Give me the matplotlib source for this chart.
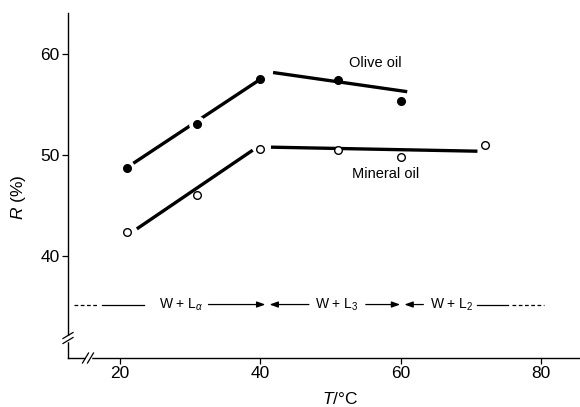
import matplotlib
matplotlib.use("Agg")
import matplotlib.pyplot as plt

plt.rcParams['font.family'] = ['Liberation Sans', 'DejaVu Sans']
plt.rcParams['mathtext.fontset'] = 'custom'
plt.rcParams['mathtext.rm'] = 'Liberation Sans'
plt.rcParams['mathtext.it'] = 'Liberation Sans:italic'

# Data
T_olive = [21, 31, 40, 51, 60]
R_olive = [48.7, 53.1, 57.6, 57.5, 55.4]
T_mineral = [21, 31, 40, 51, 60, 72]
R_mineral = [42.4, 46.1, 50.6, 50.5, 49.8, 51.0]

olive_fit1_T = [21.9, 39.7]
olive_fit1_R = [49.2, 57.4]
olive_fit2_T = [41.8, 60.9]
olive_fit2_R = [58.2, 56.3]
mineral_fit1_T = [22.4, 38.9]
mineral_fit1_R = [42.7, 50.5]
mineral_fit2_T = [41.5, 70.9]
mineral_fit2_R = [50.8, 50.4]

phase_labels = ['W + L$_{\\alpha}$', 'W + L$_3$', 'W + L$_2$']
phase_label_T = [28.7, 50.9, 67.2]
phase_R = 35.2
phase_bounds = [41.0, 60.2]

xticks = [20, 40, 60, 80]
yticks = [40, 50, 60]

fig = plt.figure(figsize=(5.8, 4.07), dpi=100)
ax = fig.add_axes([68/580, 49/407, 512/580, 345/407])
ax.set_xlim(12.6, 85.5)
ax.set_ylim(29.9, 64.1)
for s in ['top', 'right']:
    ax.spines[s].set_visible(False)
for s in ['left', 'bottom']:
    ax.spines[s].set_linewidth(1.0)

ax.set_xticks(xticks)
ax.set_yticks(yticks)
ax.tick_params(direction='out', length=4, width=0.9, labelsize=12.5, pad=2)

lw = 2.4
# fit lines
ax.plot(olive_fit1_T, olive_fit1_R, color='black', lw=lw, solid_capstyle='butt', zorder=2)
ax.plot(olive_fit2_T, olive_fit2_R, color='black', lw=lw, solid_capstyle='butt', zorder=2)
ax.plot(mineral_fit1_T, mineral_fit1_R, color='black', lw=lw, solid_capstyle='butt', zorder=2)
ax.plot(mineral_fit2_T, mineral_fit2_R, color='black', lw=lw, solid_capstyle='butt', zorder=2)

# white halo around the olive point on the rising line
ax.plot(T_olive[1:2], R_olive[1:2], 'o', ms=11, color='white', mec='white', zorder=3)
ax.plot(T_olive, R_olive, 'o', ms=5.5, color='black', mec='black', zorder=4)
ax.plot(T_mineral, R_mineral, 'o', ms=5.5, mfc='white', mec='black', mew=1.0, zorder=4)

ax.text(56.4, 59.1, 'Olive oil', fontsize=10.5, ha='center', va='center')
ax.text(57.8, 48.1, 'Mineral oil', fontsize=10.5, ha='center', va='center')

# phase line
pl = dict(color='black', lw=0.9)
ax.plot([13.4, 17.0], [phase_R, phase_R], ls=(0, (3, 2)), **pl)
ax.plot([17.4, 23.4], [phase_R, phase_R], **pl)
ax.plot([75.8, 80.4], [phase_R, phase_R], ls=(0, (3, 2)), **pl)
ax.plot([70.9, 75.3], [phase_R, phase_R], **pl)
arrow = dict(arrowstyle='-|>,head_length=0.5,head_width=0.18', color='black', lw=0.9, shrinkA=0, shrinkB=0)
ax.annotate('', xy=(phase_bounds[0] - 0.3, phase_R), xytext=(32.6, phase_R), arrowprops=arrow)
ax.annotate('', xy=(phase_bounds[0] + 0.3, phase_R), xytext=(46.9, phase_R), arrowprops=arrow)
ax.annotate('', xy=(phase_bounds[1] - 0.3, phase_R), xytext=(55.0, phase_R), arrowprops=arrow)
ax.annotate('', xy=(phase_bounds[1] + 0.3, phase_R), xytext=(63.2, phase_R), arrowprops=arrow)
for lab, t in zip(phase_labels, phase_label_T):
    ax.text(t, phase_R, lab, fontsize=10, ha='center', va='center')

# axis break marks
def brk(xc, yc):
    dx, dy = 5/512, 4/345
    sep_x, sep_y = 0, 5/345
    for k in (-0.5, 0.5):
        ax.plot([xc - dx + k*sep_x, xc + dx + k*sep_x], [yc - dy + k*sep_y, yc + dy + k*sep_y],
                transform=ax.transAxes, color='black', lw=0.9, clip_on=False, zorder=6)

def brk_x(xc, yc):
    dx, dy = 3/512, 5/345
    sep_x = 5/512
    ax.plot([xc - sep_x/2 + 1/512, xc + sep_x/2 - 1/512], [yc, yc], transform=ax.transAxes,
            color='white', lw=2.5, clip_on=False, zorder=5)
    for k in (-0.5, 0.5):
        ax.plot([xc - dx + k*sep_x, xc + dx + k*sep_x], [yc - dy, yc + dy],
                transform=ax.transAxes, color='black', lw=0.9, clip_on=False, zorder=6)

def brk_y(xc, yc):
    dx, dy = 5/512, 3/345
    sep_y = 5/345
    ax.plot([xc, xc], [yc - sep_y/2 + 1/345, yc + sep_y/2 - 1/345], transform=ax.transAxes,
            color='white', lw=2.5, clip_on=False, zorder=5)
    for k in (-0.5, 0.5):
        ax.plot([xc - dx, xc + dx], [yc - dy + k*sep_y, yc + dy + k*sep_y],
                transform=ax.transAxes, color='black', lw=0.9, clip_on=False, zorder=6)

brk_y(0.0, 20/345)
brk_x(20/512, 0.0)

ax.set_xlabel('$T$/°C', fontsize=12.5)
ax.xaxis.set_label_coords((340 - 68)/512, (358 - 391)/345)
ax.set_ylabel('$R$ (%)', fontsize=12.5)
ax.yaxis.set_label_coords((28 - 68)/512, (358 - 197)/345)

fig.savefig('out.png', dpi=100)
